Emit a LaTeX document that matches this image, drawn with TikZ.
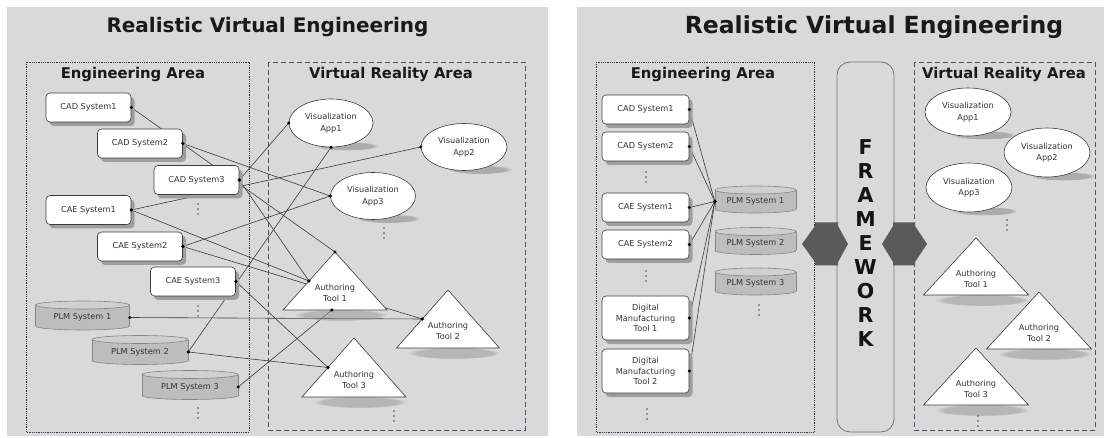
\documentclass[tikz,border=0pt]{standalone}
\usepackage{fontspec}
\setmainfont{DejaVu Sans}
\usetikzlibrary{shapes.geometric,shadows,fadings,calc}
\definecolor{panel}{HTML}{D9D9D9}
\definecolor{edge}{HTML}{3A3A3A}
\definecolor{boxline}{HTML}{3C3C3C}
\definecolor{cylfill}{HTML}{BDBDBD}
\definecolor{cyltop}{HTML}{D0D0D0}
\definecolor{cylline}{HTML}{858585}
\definecolor{areadot}{HTML}{2E3450}
\definecolor{areadash}{HTML}{4A5068}
\definecolor{arrowgray}{HTML}{5A5A5A}
\definecolor{txt}{HTML}{333333}
\definecolor{shadowc}{HTML}{9A9A9A}
\pgfdeclarelayer{back}
\pgfdeclarelayer{lines}
\pgfsetlayers{back,lines,main}
\tikzset{
  sysbox/.style={draw=boxline, fill=white, rounded corners=4pt, minimum width=85pt,
    minimum height=29pt, inner sep=1pt, font=\fontsize{8.2}{10.5}\selectfont, text=txt,
    align=center, line width=0.6pt,
    drop shadow={shadow xshift=3.5pt, shadow yshift=-4pt, fill=black!38, opacity=1}},
  visell/.style={ellipse, draw=boxline, fill=white, inner sep=0pt, line width=0.6pt,
    font=\fontsize{8.2}{11.5}\selectfont, text=txt, align=center},
  tri/.style={draw=boxline, fill=white, line width=0.6pt, line join=miter},
  tritext/.style={font=\fontsize{8.2}{11}\selectfont, text=txt, align=center, inner sep=0pt},
  cylbody/.style={fill=cylfill},
  cylline/.style={draw=cylline, line width=0.6pt},
  cyltext/.style={font=\fontsize{8.2}{10}\selectfont, text=txt, inner sep=0pt},
  conn/.style={draw=edge, line width=0.6pt},
  engarea/.style={draw=areadot, line width=0.8pt, dash pattern=on 0.8pt off 1pt},
  vrarea/.style={draw=areadash, line width=0.9pt, dash pattern=on 5pt off 3pt},
  areatitle/.style={font=\fontsize{14.8}{16}\selectfont\bfseries, text=black!90, inner sep=0pt},
  bigtitle/.style={font=\fontsize{20}{24}\selectfont\bfseries, text=black!90, inner sep=0pt},
  fwbox/.style={draw=black!55, line width=0.8pt, rounded corners=13pt, fill=panel},
  fwtext/.style={font=\fontsize{20.5}{24}\selectfont\bfseries, text=black!92, align=center, inner sep=0pt},
  blockarrow/.style={fill=arrowgray},
  softshadow/.style={fill=shadowc, path fading=circle with fuzzy edge 20 percent},
}
\newcommand\link[2]{%
  \begin{pgfonlayer}{lines}\draw[conn] (#1) -- (#2);\end{pgfonlayer}
  \fill[black] (#1) circle (1.7); \fill[black] (#2) circle (1.7);}
\newcommand\vd[2]{%
  \foreach \k in {-5,0,5} {\fill[black!70] (#1,{#2+\k}) circle (0.9);}}
% name, apex x, apex y, half base, height, text
\newcommand\mytri[6]{%
  \coordinate (#1-a) at (#2,#3);
  \coordinate (#1-l) at ({#2-#4},{#3+#5});
  \coordinate (#1-r) at ({#2+#4},{#3+#5});
  \coordinate (#1-lp) at ($(#1-a)!0.5!(#1-l)$);
  \fill[softshadow, opacity=0.55] ({#2+6},{#3+#5+5}) ellipse ({#4*0.9} and 6);
  \filldraw[tri] (#1-a) -- (#1-l) -- (#1-r) -- cycle;
  \node[tritext] (#1) at (#2,{#3+0.71*#5}) {#6};}
% name, cx, cy, w, h, text
\newcommand\mycyl[6]{%
  \filldraw[cylbody, cylline] (#2,{#3+#5/2-4}) ellipse ({#4/2} and 4);
  \fill[cylbody] ({#2-#4/2},{#3-#5/2+4}) rectangle ({#2+#4/2},{#3+#5/2-4});
  \draw[cylline] ({#2-#4/2},{#3-#5/2+4}) -- ({#2-#4/2},{#3+#5/2-4});
  \draw[cylline] ({#2+#4/2},{#3-#5/2+4}) -- ({#2+#4/2},{#3+#5/2-4});
  \filldraw[fill=cyltop, cylline] (#2,{#3-#5/2+4}) ellipse ({#4/2} and 4);
  \node[cyltext, minimum width=#4, minimum height=#5-8] (#1) at (#2,{#3+2}) {#6};}
% name, cx, cy, rx, ry, text
\newcommand\myell[6]{%
  \fill[softshadow, opacity=0.7] ({#2+16},{#3+#5-1}) ellipse ({#4*0.75} and 4.5);
  \node[visell, minimum width=2*#4, minimum height=2*#5] (#1) at (#2,#3) {#6};}
% double block arrow: left tip x, body left, body right, right tip x, centre y
\newcommand\dblarrow[5]{%
  \fill[blockarrow] (#1,#5) -- (#2,{#5-18}) -- (#2,{#5-21.5}) -- (#3,{#5-21.5}) -- (#3,{#5-18})
    -- (#4,#5) -- (#3,{#5+18}) -- (#3,{#5+21.5}) -- (#2,{#5+21.5}) -- (#2,{#5+18}) -- cycle;}
\begin{document}
\begin{tikzpicture}[x=1pt,y=-1pt]
\useasboundingbox (0,0) rectangle (1108,438);
\begin{pgfonlayer}{back}
  \fill[white] (0,0) rectangle (1108,438);
  \fill[panel] (7,7) rectangle (548,436);
  \fill[panel] (577,7) rectangle (1104,436);
  \draw[engarea] (26,62) rectangle (249,432);
  \draw[vrarea] (268,62) rectangle (525,430);
  \draw[engarea] (596,62) rectangle (814,432);
  \draw[vrarea] (914,62) rectangle (1095,430);
\end{pgfonlayer}
% ---------------- left panel ----------------
\node[bigtitle] (titleL) at (267.5,27) {Realistic Virtual Engineering};
\node[areatitle] (engL) at (133,74) {Engineering Area};
\node[areatitle] (vrL) at (391,74) {Virtual Reality Area};
\node[sysbox] (cad1) at (88.5,107.5) {CAD System1};
\node[sysbox] (cad2) at (140,143.5) {CAD System2};
\node[sysbox] (cad3) at (196.5,180) {CAD System3};
\node[sysbox] (cae1) at (88.5,210) {CAE System1};
\node[sysbox] (cae2) at (140,246.5) {CAE System2};
\node[sysbox] (cae3) at (193,281.5) {CAE System3};
\vd{198}{209}\vd{198}{311}\vd{198}{413}
\mycyl{plm1}{82.5}{315.5}{94}{29}{PLM System 1}
\mycyl{plm2}{140}{350}{96}{29}{PLM System 2}
\mycyl{plm3}{190}{385}{96}{29}{PLM System 3}
\myell{app1}{331}{123}{42}{24}{Visualization\\App1}
\myell{app2}{464}{147}{43}{23.5}{Visualization\\App2}
\myell{app3}{373}{196}{42.5}{23.5}{Visualization\\App3}
\vd{384}{233}
\mytri{t1}{335}{252}{52}{58}{Authoring\\Tool 1}
\mytri{t2}{448}{290}{51.5}{58}{Authoring\\Tool 2}
\mytri{t3}{354}{338}{52}{59}{Authoring\\Tool 3}
\coordinate (t1-b) at ($(t1-l)!0.47!(t1-r)$);
\vd{394}{416}
\link{cad1.east}{t1-a}
\link{cad2.east}{app3.west}
\link{cad3.east}{app1.west}
\link{cad3.east}{t1-lp}
\link{cae1.east}{app2.west}
\link{cae1.east}{t1-lp}
\link{cae2.east}{app3.west}
\link{cae2.east}{t2-lp}
\link{cae3.east}{t3-lp}
\link{plm1.east}{t2-lp}
\link{plm2.east}{app1.south}
\link{plm2.east}{t3-lp}
\link{plm3.east}{t1-b}
% ---------------- right panel ----------------
\node[bigtitle, font=\fontsize{23.5}{26}\selectfont\bfseries] (titleR) at (874,27) {Realistic Virtual Engineering};
\node[areatitle] (engR) at (703,74) {Engineering Area};
\node[areatitle] (vrR) at (1004,74) {Virtual Reality Area};
\node[sysbox, minimum width=87pt] (rcad1) at (645.5,109.5) {CAD System1};
\node[sysbox, minimum width=87pt] (rcad2) at (645.5,146.5) {CAD System2};
\vd{646}{177}
\node[sysbox, minimum width=87pt] (rcae1) at (645.5,207.5) {CAE System1};
\node[sysbox, minimum width=87pt] (rcae2) at (645.5,244.5) {CAE System2};
\vd{646}{276}
\node[sysbox, minimum width=87pt, minimum height=44pt] (rdmt1) at (645.5,318) {Digital\\Manufacturing\\Tool 1};
\node[sysbox, minimum width=87pt, minimum height=44pt] (rdmt2) at (645.5,371) {Digital\\Manufacturing\\Tool 2};
\vd{647}{414}
\mycyl{rplm1}{755.5}{199.5}{81}{27}{PLM System 1}
\mycyl{rplm2}{755.5}{241}{81}{27}{PLM System 2}
\mycyl{rplm3}{755.5}{281.5}{81}{27}{PLM System 3}
\vd{759}{310}
\link{rcad1.east}{rplm1.west}
\link{rcad2.east}{rplm1.west}
\link{rcae1.east}{rplm1.west}
\link{rcae2.east}{rplm1.west}
\link{rdmt1.east}{rplm1.west}
\link{rdmt2.east}{rplm1.west}
% framework
\node[fwbox, minimum width=57pt, minimum height=370pt] (fw) at (865.5,247) {};
\node[fwtext] (fwt) at (865.5,243) {F\\R\\A\\M\\E\\W\\O\\R\\K};
\dblarrow{802}{815}{838}{848}{244}
\dblarrow{882}{893}{915}{927}{244}
\myell{rapp1}{968}{112}{43}{24}{Visualization\\App1}
\myell{rapp2}{1047}{152.5}{43}{24.5}{Visualization\\App2}
\myell{rapp3}{969}{187.5}{43}{24.5}{Visualization\\App3}
\vd{1007}{225}
\mytri{rt1}{976}{238}{52.5}{57}{Authoring\\Tool 1}
\mytri{rt2}{1039}{292}{52.5}{57}{Authoring\\Tool 2}
\mytri{rt3}{976}{348}{52.5}{57}{Authoring\\Tool 3}
\vd{978}{421}
\end{tikzpicture}
\end{document}
